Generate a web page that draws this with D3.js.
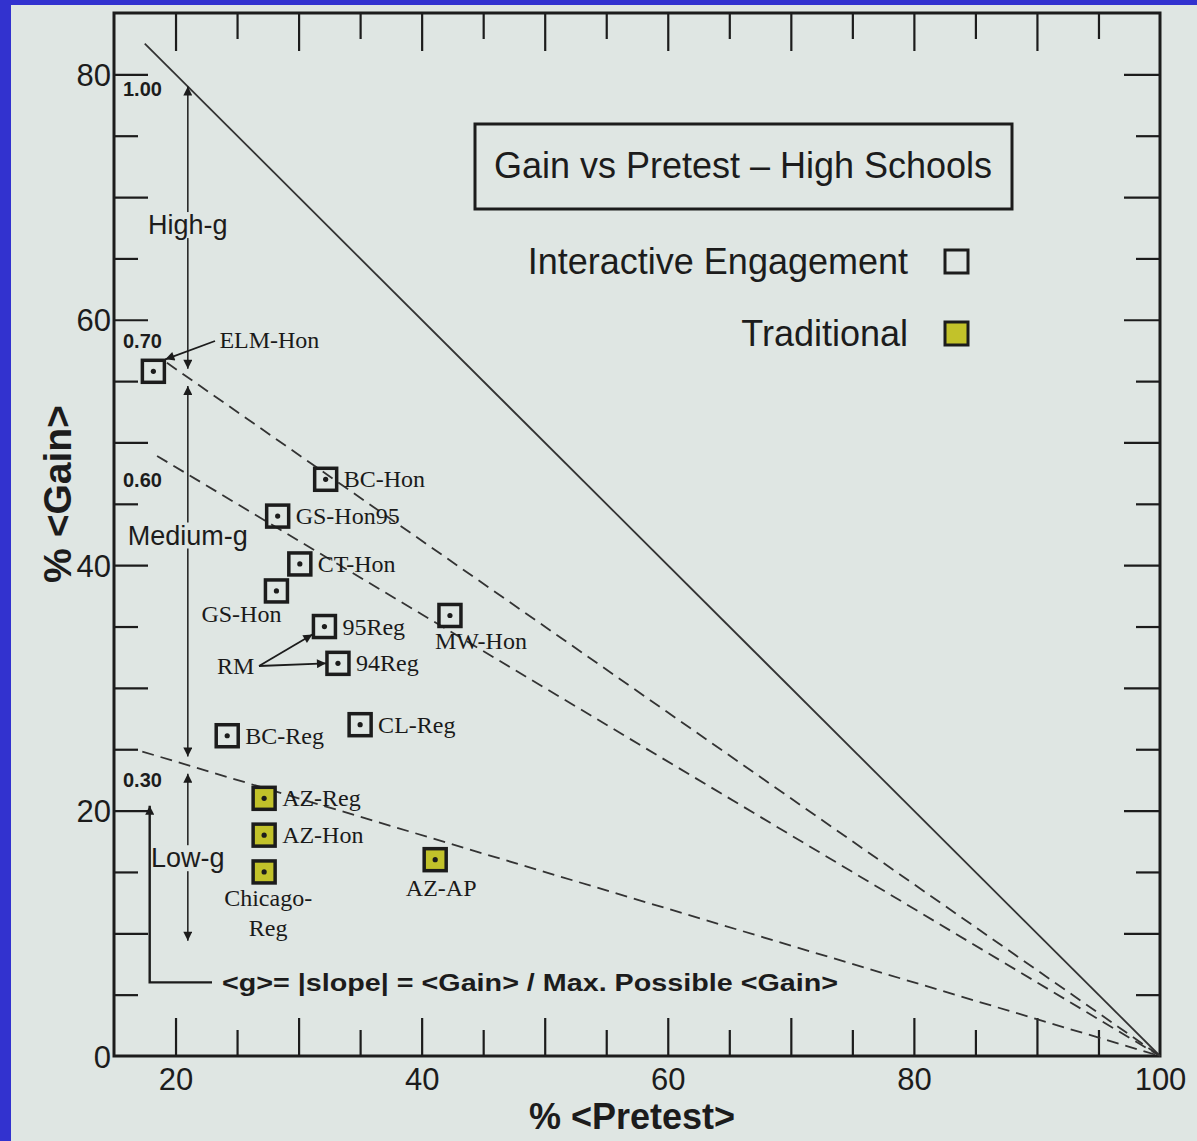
<!DOCTYPE html>
<html>
<head>
<meta charset="utf-8">
<script src="https://cdn.jsdelivr.net/npm/d3@7"></script>
<style>
    body { margin: 0; background: #3232cf; }
    svg { display: block; }
</style>
</head>
<body>
<script>
//Gain vs Pretest for high school physics classes
(function(){

    //interactive engagement classes
    var ieNames = ["ELM-Hon", "BC-Hon", "GS-Hon95", "CT-Hon", "GS-Hon", "95Reg", "94Reg", "MW-Hon", "CL-Reg", "BC-Reg"];
    var iePretest = [18.2, 32.2, 28.3, 30.1, 28.2, 32.1, 33.2, 42.3, 35.0, 24.2];
    var ieGain = [55.8, 47.0, 44.0, 40.1, 37.9, 35.0, 32.0, 35.9, 27.0, 26.1];

    //traditional classes
    var trNames = ["AZ-Reg", "AZ-Hon", "Chicago-Reg", "AZ-AP"];
    var trPretest = [27.2, 27.2, 27.2, 41.1];
    var trGain = [21.0, 18.0, 15.0, 16.0];

    //lines of constant normalized gain <g>
    var gValues = [1.00, 0.70, 0.60, 0.30];
    var gLabels = ["1.00", "0.70", "0.60", "0.30"];
    var gStart = [17.5, 19.3, 18.5, 17.3];
    var gLabelGain = [78.2, 57.7, 46.4, 21.9];

    //axis ticks
    var xMajor = [20, 30, 40, 50, 60, 70, 80, 90];
    var xMinor = [25, 35, 45, 55, 65, 75, 85, 95];
    var xLabels = [20, 40, 60, 80, 100];
    var yMajor = [10, 20, 30, 40, 50, 60, 70, 80];
    var yMinor = [5, 15, 25, 35, 45, 55, 65, 75];
    var yLabels = [0, 20, 40, 60, 80];

    var paper = "#dfe6e3",
        ink = "#1c1c1c",
        olive = "#c2c22a",
        sans = "'Liberation Sans', Arial, sans-serif",
        serif = "'Liberation Serif', 'Times New Roman', serif";

    var width = 1197, height = 1141;

    var svg = d3.select("body")
        .append("svg")
        .attr("width", width)
        .attr("height", height);

    //paper background (blue shows on left and top)
    svg.append("rect")
        .attr("x", 11)
        .attr("y", 5)
        .attr("width", width - 11)
        .attr("height", height - 5)
        .attr("fill", paper);

    var x = d3.scaleLinear().domain([15, 100]).range([114, 1160]);
    var y = d3.scaleLinear().domain([0, 85]).range([1056, 13]);

    //arrow head marker
    var defs = svg.append("defs");
    defs.append("marker")
        .attr("id", "head")
        .attr("viewBox", "0 0 10 10")
        .attr("refX", 10)
        .attr("refY", 5)
        .attr("markerUnits", "userSpaceOnUse")
        .attr("markerWidth", 12)
        .attr("markerHeight", 9)
        .attr("orient", "auto-start-reverse")
        .append("path")
        .attr("d", "M0,0 L10,5 L0,10 z")
        .attr("fill", ink);

    //axes with inward ticks
    function drawAxis(gen, transform, values, size, labels){
        var g = svg.append("g")
            .attr("transform", transform)
            .call(gen.tickValues(values).tickSizeInner(-size).tickSizeOuter(0)
                .tickFormat(function(d){ return labels && labels.indexOf(d) >= 0 ? d : ""; }));
        g.select(".domain").remove();
        g.selectAll("line").attr("stroke", ink).attr("stroke-width", 2.2);
        g.selectAll("text")
            .attr("fill", ink)
            .style("font-family", sans)
            .style("font-size", "31px");
        return g;
    }

    drawAxis(d3.axisBottom(x), "translate(0," + y(0) + ")", xMajor, 38);
    drawAxis(d3.axisBottom(x), "translate(0," + y(0) + ")", xMinor, 26);
    var xl = drawAxis(d3.axisBottom(x), "translate(0," + y(0) + ")", xLabels, 0, xLabels);
    xl.selectAll("line").remove();
    xl.selectAll("text").attr("dy", "0.85em").attr("y", 8);
    drawAxis(d3.axisTop(x), "translate(0," + y(85) + ")", xMajor, 38);
    drawAxis(d3.axisTop(x), "translate(0," + y(85) + ")", xMinor, 26);

    drawAxis(d3.axisLeft(y), "translate(" + x(15) + ",0)", yMajor, 34);
    drawAxis(d3.axisLeft(y), "translate(" + x(15) + ",0)", yMinor, 24);
    var yl = drawAxis(d3.axisLeft(y), "translate(" + x(15) + ",0)", yLabels, 0, yLabels);
    yl.selectAll("line").remove();
    yl.selectAll("text").attr("x", -3).attr("dy", "0.36em");
    drawAxis(d3.axisRight(y), "translate(" + x(100) + ",0)", yMajor, 36);
    drawAxis(d3.axisRight(y), "translate(" + x(100) + ",0)", yMinor, 24);

    //frame
    svg.append("rect")
        .attr("x", x(15))
        .attr("y", y(85))
        .attr("width", x(100) - x(15))
        .attr("height", y(0) - y(85))
        .attr("fill", "none")
        .attr("stroke", ink)
        .attr("stroke-width", 3);

    //axis titles
    svg.append("text")
        .attr("x", 632)
        .attr("y", 1129)
        .attr("text-anchor", "middle")
        .attr("fill", ink)
        .style("font-family", sans)
        .style("font-weight", "bold")
        .style("font-size", "36px")
        .text("% <Pretest>");

    svg.append("text")
        .attr("transform", "translate(71,494) rotate(-90)")
        .attr("text-anchor", "middle")
        .attr("fill", ink)
        .style("font-family", sans)
        .style("font-weight", "bold")
        .style("font-size", "39px")
        .text("% <Gain>");

    //lines of constant <g>
    gValues.forEach(function(g, i){
        svg.append("line")
            .attr("x1", x(gStart[i]))
            .attr("y1", y(g * (100 - gStart[i])))
            .attr("x2", x(100))
            .attr("y2", y(0))
            .attr("stroke", "#333")
            .attr("stroke-width", 1.8)
            .attr("stroke-dasharray", i == 0 ? null : "12,7");
        svg.append("text")
            .attr("x", 123)
            .attr("y", y(gLabelGain[i]))
            .attr("fill", ink)
            .style("font-family", sans)
            .style("font-weight", "bold")
            .style("font-size", "20px")
            .text(gLabels[i]);
    });

    //vertical high/medium/low arrows at pretest 21
    var px = 21;
    var segs = [[gValues[1], gValues[0], "High-g", 67.8], [gValues[3], gValues[1], "Medium-g", 42.5], [null, gValues[3], "Low-g", 16.2]];
    segs.forEach(function(s){
        var top = s[1] * (100 - px) - (s[1] == 1 ? 0 : 0.7);
        var bot = s[0] === null ? 9.4 : s[0] * (100 - px) + 0.7;
        svg.append("line")
            .attr("x1", x(px)).attr("y1", y(bot))
            .attr("x2", x(px)).attr("y2", y(top))
            .attr("stroke", ink)
            .attr("stroke-width", 1.5)
            .attr("marker-start", "url(#head)")
            .attr("marker-end", "url(#head)");
    });
    segs.forEach(function(s){
        var bg = svg.append("rect").attr("fill", paper);
        var t = svg.append("text")
            .attr("x", x(px))
            .attr("y", y(s[3]) + 10)
            .attr("text-anchor", "middle")
            .attr("fill", ink)
            .style("font-family", sans)
            .style("font-size", "27px")
            .text(s[2]);
        var b = t.node().getBBox();
        bg.attr("x", b.x - 2).attr("y", b.y + 2)
            .attr("width", b.width + 4).attr("height", b.height - 4);
    });

    //slope definition arrow
    svg.append("path")
        .attr("d", "M212," + y(6) + " H" + x(17.9) + " V" + y(20.4))
        .attr("fill", "none")
        .attr("stroke", ink)
        .attr("stroke-width", 2.4)
        .attr("marker-end", "url(#head)");
    svg.append("text")
        .attr("x", 222)
        .attr("y", y(6) + 9)
        .attr("fill", ink)
        .style("font-family", sans)
        .style("font-weight", "bold")
        .style("font-size", "23px")
        .attr("textLength", 616)
        .attr("lengthAdjust", "spacingAndGlyphs")
        .text("<g>= |slope| = <Gain> / Max. Possible <Gain>");

    //title box and legend
    svg.append("rect")
        .attr("x", 475).attr("y", 124)
        .attr("width", 537).attr("height", 85)
        .attr("fill", "none")
        .attr("stroke", ink)
        .attr("stroke-width", 3);
    svg.append("text")
        .attr("x", 743).attr("y", 178)
        .attr("text-anchor", "middle")
        .attr("fill", ink)
        .style("font-family", sans)
        .style("font-size", "36px")
        .text("Gain vs Pretest \u2013 High Schools");

    var legend = [["Interactive Engagement", "none", 262], ["Traditional", olive, 334]];
    legend.forEach(function(l){
        svg.append("text")
            .attr("x", 908).attr("y", l[2] + 12)
            .attr("text-anchor", "end")
            .attr("fill", ink)
            .style("font-family", sans)
            .style("font-size", "36px")
            .text(l[0]);
        svg.append("rect")
            .attr("x", 945).attr("y", l[2] - 12)
            .attr("width", 23).attr("height", 23)
            .attr("fill", l[1])
            .attr("stroke", ink)
            .attr("stroke-width", 3);
    });

    //class markers
    function drawPoints(names, pre, gain, fill){
        var pts = svg.selectAll(null)
            .data(names)
            .enter()
            .append("g")
            .attr("transform", function(d, i){ return "translate(" + x(pre[i]) + "," + y(gain[i]) + ")"; });
        pts.append("rect")
            .attr("x", -11).attr("y", -11)
            .attr("width", 22).attr("height", 22)
            .attr("fill", fill)
            .attr("stroke", ink)
            .attr("stroke-width", 3.5);
        pts.append("circle")
            .attr("r", 2.6)
            .attr("fill", ink);
        pts.append("text")
            .attr("fill", "#1a1a1a")
            .style("font-family", serif)
            .style("font-size", "24px")
            .each(function(d){
                var t = d3.select(this);
                if (d == "GS-Hon"){
                    t.attr("x", -35).attr("y", 31).attr("text-anchor", "middle").text(d);
                } else if (d == "MW-Hon"){
                    t.attr("x", -15).attr("y", 34).text(d);
                } else if (d == "AZ-AP"){
                    t.attr("x", 6).attr("y", 36).attr("text-anchor", "middle").text(d);
                } else if (d == "Chicago-Reg"){
                    t.attr("text-anchor", "middle");
                    t.append("tspan").attr("x", 4).attr("y", 34).text("Chicago-");
                    t.append("tspan").attr("x", 4).attr("y", 64).text("Reg");
                } else if (d == "ELM-Hon"){
                    t.attr("x", 66).attr("y", -23).text(d);
                } else {
                    t.attr("x", 18).attr("y", 8).text(d);
                }
            });
        return pts;
    }

    drawPoints(ieNames, iePretest, ieGain, "none");
    drawPoints(trNames, trPretest, trGain, olive);

    //pointer arrows
    function pointer(x1, y1, x2, y2){
        svg.append("line")
            .attr("x1", x1).attr("y1", y1)
            .attr("x2", x2).attr("y2", y2)
            .attr("stroke", ink)
            .attr("stroke-width", 1.8)
            .attr("marker-end", "url(#head)");
    }
    pointer(215, 341, x(iePretest[0]) + 12, y(ieGain[0]) - 12);
    svg.append("text")
        .attr("x", 217).attr("y", 674)
        .attr("fill", "#1a1a1a")
        .style("font-family", serif)
        .style("font-size", "24px")
        .text("RM");
    pointer(259, 666, x(iePretest[5]) - 12, y(ieGain[5]) + 8);
    pointer(259, 666, x(iePretest[6]) - 12, y(ieGain[6]));

})();
</script>
</body>
</html>
